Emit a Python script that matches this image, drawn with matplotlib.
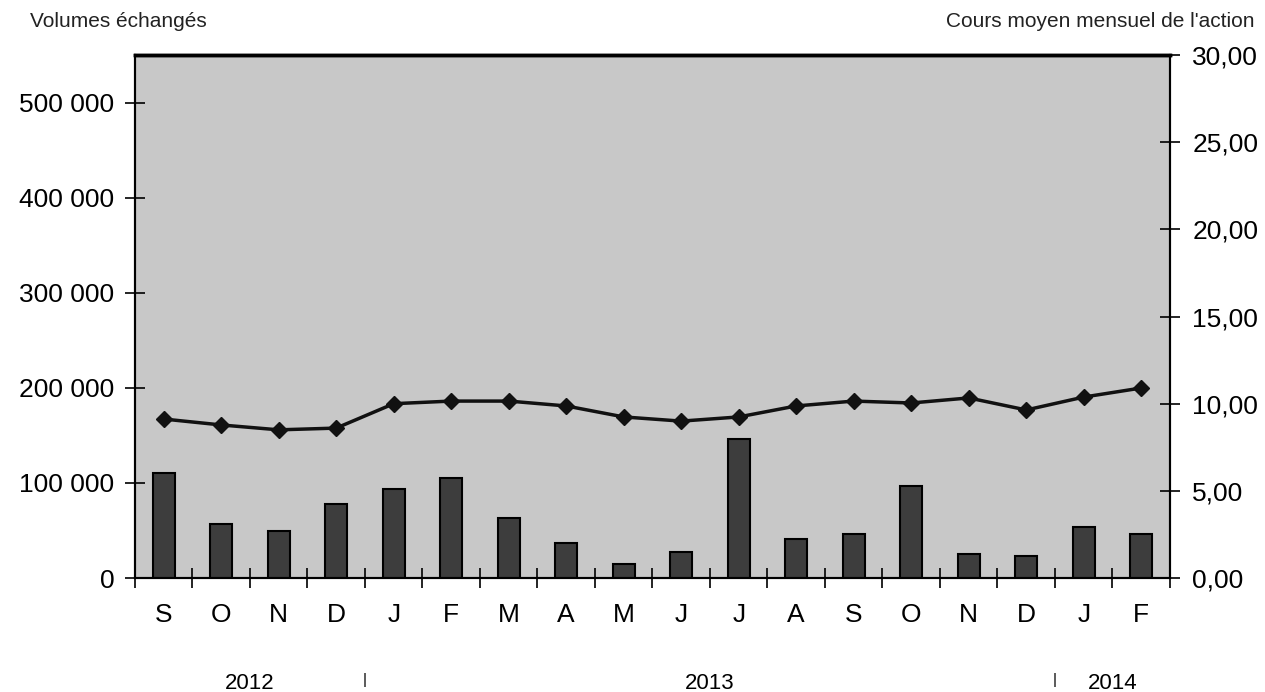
import matplotlib
matplotlib.use("Agg")
import matplotlib.pyplot as plt
import matplotlib.transforms as mtransforms
from matplotlib.ticker import FuncFormatter

plt.rcParams['font.family'] = ['Liberation Sans', 'DejaVu Sans']

months = ['S', 'O', 'N', 'D', 'J', 'F', 'M', 'A', 'M', 'J', 'J', 'A', 'S', 'O', 'N', 'D', 'J', 'F']
volumes = [110000, 56500, 49000, 78000, 94000, 105000, 63000, 37000, 15000, 27000,
           146000, 41000, 46000, 97000, 25000, 23000, 54000, 46000]
prices = [9.12, 8.78, 8.50, 8.60, 10.00, 10.15, 10.15, 9.87, 9.24, 9.00,
          9.24, 9.87, 10.15, 10.04, 10.33, 9.64, 10.38, 10.90]
years = ['2012', '2013', '2014']
year_pos = [1.5, 9.5, 16.5]
year_breaks = [3.5, 15.5]

fig = plt.figure(figsize=(12.65, 6.92), dpi=100)
ax = fig.add_axes([0.1067, 0.1647, 0.8182, 0.7558])
ax.set_facecolor('#c8c8c8')

x = list(range(len(months)))
ax.bar(x, volumes, width=0.38, color='#3d3d3d', edgecolor='black', linewidth=1.5, zorder=3)
ax.set_xlim(-0.5, len(months) - 0.5)
ax.set_ylim(0, 550000)
ax.set_yticks(range(0, 500001, 100000))
ax.yaxis.set_major_formatter(FuncFormatter(lambda v, p: f"{int(v):,}".replace(',', ' ')))

ax.set_xticks(x)
ax.set_xticklabels(months, fontsize=19)
ax.set_xticks([i + 0.5 for i in range(-1, len(months))], minor=True)
ax.tick_params(axis='x', which='major', length=0, pad=18)
ax.tick_params(axis='x', which='minor', direction='inout', length=14, width=1.2)
ax.tick_params(axis='y', direction='inout', length=14, width=1.2, labelsize=19, pad=8)

ax2 = ax.twinx()
ax2.plot(x, prices, color='#111111', linewidth=2.5, marker='D', markersize=8, zorder=4)
ax2.set_ylim(0, 30)
ax2.set_yticks(range(0, 31, 5))
ax2.yaxis.set_major_formatter(FuncFormatter(lambda v, p: f"{v:.2f}".replace('.', ',')))
ax2.tick_params(axis='y', direction='inout', length=14, width=1.2, labelsize=19, pad=9)

for a in (ax, ax2):
    for s in a.spines.values():
        s.set_linewidth(1.5)
    a.spines['top'].set_linewidth(2.5)

trans = mtransforms.blended_transform_factory(ax.transData, fig.transFigure)
for label, pos in zip(years, year_pos):
    ax.text(pos, 0.027, label, transform=trans, ha='center', va='top', fontsize=16)
for b in year_breaks:
    ax.text(b, 0.027, '|', transform=trans, ha='center', va='top', fontsize=11)

fig.text(0.024, 0.955, 'Volumes échangés', fontsize=15, va='bottom', ha='left', color='#222222')
fig.text(0.992, 0.955, "Cours moyen mensuel de l'action", fontsize=15, va='bottom', ha='right',
         color='#222222')

fig.savefig('out.png', dpi=100)
